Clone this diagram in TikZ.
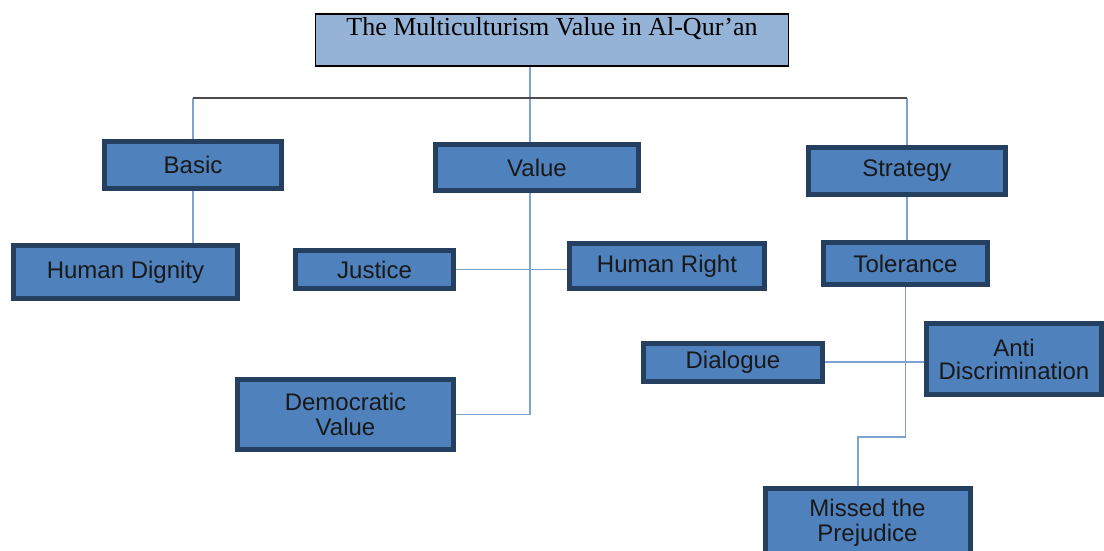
\documentclass[tikz,border=0pt]{standalone}
\usepackage{fontspec}
\setmainfont{Liberation Sans}
\newfontfamily\titlefont{Liberation Serif}
\definecolor{boxfill}{HTML}{4F81BD}
\definecolor{boxline}{HTML}{243F60}
\definecolor{headfill}{HTML}{95B3D7}
\definecolor{linkblue}{HTML}{7EA3D3}

\begin{document}
\begin{tikzpicture}[
    x = 0.5pt, y = -0.5pt,
    box/.style = {rectangle, draw=boxline, fill=boxfill, line width=2.5pt,
        inner sep=1pt, align=center, text=black!90,
        font=\fontsize{12}{12.5}\selectfont},
    dims/.style 2 args = {minimum width=#1pt, minimum height=#2pt},
    head/.style = {rectangle, draw=black, fill=headfill, line width=0.8pt,
        inner sep=0pt, minimum width=236.5pt, text height=11pt, text depth=15pt,
        font=\titlefont\fontsize{13}{15}\selectfont},
    link/.style = {draw=linkblue, line width=0.8pt},
    bar/.style = {draw=black!70, line width=1pt}
]
    \useasboundingbox (0,0) rectangle (1104,551);

    % top of the tree
    \node[head] (title) at (552,40) {The Multiculturism Value in Al-Qur’an};

    % three branches
    \node[box, dims={88.5}{23.5}] (basic) at (193,165) {Basic};
    \node[box, dims={101.5}{23}] (value) at (537,167.5) {Value};
    \node[box, dims={98.5}{23.5}] (strategy) at (907,171) {Strategy};

    % leaves
    \node[box, dims={112}{26.5}] (dignity) at (125.5,272) {Human Dignity};
    \node[box, dims={79}{19}] (justice) at (374.5,269.5) {Justice};
    \node[box, dims={97.5}{22.5}] (right) at (667,266) {Human Right};
    \node[box, dims={108}{35}] (democ) at (345.5,414.5) {Democratic\\Value};
    \node[box, dims={82}{21}] (toler) at (905.5,263.5) {Tolerance};
    \node[box, dims={89.5}{19}] (dialog) at (733,362) {Dialogue};
    \node[box, dims={87.5}{35.5}, font=\fontsize{12}{11.5}\selectfont]
        (anti) at (1014,359) {Anti\\Discrimination};
    \node[box, dims={102.5}{34.5}] (missed) at (867.5,523) {Missed the\\Prejudice};

    \coordinate (hub) at (530,98);
    \coordinate (bend) at (858,437);

    % connectors
    \draw[link] (title.south -| hub) -- (value.north -| hub);
    \draw[link] (value.south -| hub) |- (democ.east);
    \draw[link] (basic.north |- hub) -- (basic.north);
    \draw[link] (strategy.north |- hub) -- (strategy.north);
    \draw[bar] (basic.north |- hub) -- (strategy.north |- hub);
    \draw[link] (basic.south) -- (basic.south |- dignity.north);
    \draw[link] (justice.east) -- (justice.east -| right.west);
    \draw[link] (strategy.south) -- (strategy.south |- toler.north);
    \draw[link] (toler.south) |- (bend) -- (bend |- missed.north);
    \draw[link] (dialog.east) -- (dialog.east -| anti.west);
\end{tikzpicture}
\end{document}
